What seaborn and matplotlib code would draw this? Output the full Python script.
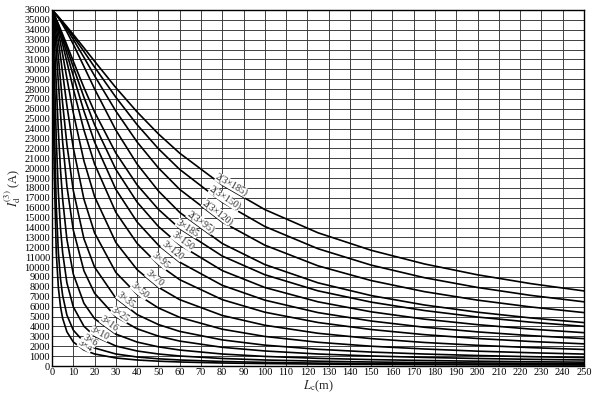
import numpy as np
import pandas as pd
import matplotlib
matplotlib.use("Agg")
import matplotlib.pyplot as plt
import seaborn as sns

# cable length Lc (m)
lengths = [0, 0.5, 1, 2, 3, 4, 5, 7, 10, 15, 20, 30, 40, 50, 60, 80, 100, 125, 150, 175, 200, 225, 250]

# short-circuit current Id(3) (A) read for each cable
i_3x4 = [36000, 28830, 20080, 11500, 7900, 5990, 4820, 3460, 2430, 1620, 1216, 811, 608, 487, 406, 304, 243, 195, 162, 139, 122, 108, 97]
i_3x6 = [36000, 32130, 25470, 16200, 11480, 8820, 7140, 5150, 3630, 2430, 1820, 1215, 912, 730, 608, 456, 365, 292, 243, 209, 182, 162, 146]
i_3x10 = [36000, 34330, 30700, 23000, 17510, 13900, 11450, 8410, 5980, 4020, 3025, 2022, 1518, 1215, 1013, 760, 608, 486, 405, 347, 304, 270, 243]
i_3x16 = [36000, 35190, 33400, 28470, 23690, 19830, 16870, 12810, 9300, 6340, 4790, 3220, 2420, 1940, 1615, 1212, 970, 776, 647, 555, 485, 432, 388]
i_3x25 = [36000, 35530, 34630, 31900, 28650, 25480, 22660, 18190, 13750, 9630, 7360, 4980, 3760, 3020, 2520, 1890, 1520, 1214, 1012, 868, 759, 675, 608]
i_3x35 = [36000, 35650, 35080, 33370, 31190, 28840, 26540, 22420, 17750, 12870, 10000, 6860, 5200, 4190, 3500, 2640, 2110, 1690, 1410, 1210, 1060, 943, 849]
i_3x50 = [36000, 35720, 35320, 34230, 32840, 31270, 29620, 26350, 22060, 16870, 13460, 9460, 7250, 5870, 4920, 3720, 2990, 2400, 2000, 1720, 1500, 1340, 1205]
i_3x70 = [36000, 35750, 35440, 34660, 33720, 32650, 31500, 29100, 25610, 20740, 17140, 12490, 9740, 7960, 6710, 5110, 4120, 3310, 2770, 2380, 2090, 1860, 1670]
i_3x95 = [36000, 35760, 35490, 34880, 34160, 33380, 32540, 30750, 28030, 23860, 20430, 15540, 12400, 10260, 8730, 6710, 5440, 4400, 3690, 3170, 2780, 2480, 2240]
i_3x120 = [36000, 35770, 35520, 34970, 34370, 33710, 33030, 31580, 29350, 25780, 22650, 17860, 14560, 12220, 10500, 8160, 6660, 5400, 4550, 3920, 3450, 3070, 2770]
i_3x150 = [36000, 35770, 35540, 35030, 34490, 33920, 33340, 32120, 30230, 27180, 24400, 19880, 16570, 14110, 12250, 9650, 7940, 6490, 5480, 4740, 4180, 3730, 3370]
i_3x185 = [36000, 35770, 35540, 35060, 34570, 34050, 33530, 32460, 30820, 28160, 25690, 21530, 18310, 15840, 13900, 11120, 9230, 7600, 6460, 5610, 4950, 4430, 4010]
i_2x95 = [36000, 35880, 35760, 35490, 35200, 34880, 34530, 33780, 32540, 30290, 28020, 23850, 20420, 17700, 15530, 12390, 10260, 8410, 7120, 6170, 5440, 4860, 4390]
i_2x120 = [36000, 35890, 35770, 35520, 35250, 34970, 34680, 34050, 33030, 31210, 29350, 25780, 22650, 20030, 17860, 14560, 12220, 10130, 8640, 7520, 6660, 5970, 5400]
i_2x150 = [36000, 35890, 35770, 35540, 35290, 35030, 34760, 34210, 33340, 31800, 30230, 27180, 24400, 21970, 19880, 16570, 14110, 11860, 10200, 8930, 7940, 7140, 6490]
i_2x185 = [36000, 35890, 35770, 35540, 35310, 35060, 34820, 34310, 33530, 32180, 30820, 28150, 25690, 23470, 21520, 18300, 15820, 13470, 11700, 10320, 9220, 8330, 7590]

cable_names = ["3×4", "3×6", "3×10", "3×16", "3×25", "3×35", "3×50", "3×70",
               "3×95", "3×120", "3×150", "3×185",
               "2(3×95)", "2(3×120)", "2(3×150)", "2(3×185)"]
series = [i_3x4, i_3x6, i_3x10, i_3x16, i_3x25, i_3x35, i_3x50, i_3x70,
          i_3x95, i_3x120, i_3x150, i_3x185, i_2x95, i_2x120, i_2x150, i_2x185]
# where each curve label sits along the length axis
label_at = [14.6, 16.9, 21.6, 25.8, 31.0, 33.4, 40.0, 47.0,
            49.8, 55.5, 60.2, 62.5, 68.6, 76.6, 80.1, 83.4]

x_ticks = list(range(0, 251, 10))
y_ticks = list(range(0, 36001, 1000))

df = pd.concat([pd.DataFrame({"L": lengths, "I": s, "cable": n})
                for n, s in zip(cable_names, series)], ignore_index=True)

sns.set_theme(style="white")
plt.rcParams["font.family"] = ["Liberation Serif", "DejaVu Serif"]
plt.rcParams["mathtext.fontset"] = "stix"

fig = plt.figure(figsize=(6.0, 3.98), dpi=100)
ax = fig.add_axes([52 / 600, 1 - 366 / 398, 532 / 600, 356 / 398])

sns.lineplot(data=df, x="L", y="I", hue="cable", units="cable", estimator=None,
             palette=["black"] * len(cable_names), hue_order=cable_names,
             legend=False, lw=1.2, sort=True, ax=ax, zorder=3)

ax.set_xlim(0, 250)
ax.set_ylim(0, 36000)
ax.set_xticks(x_ticks)
ax.set_yticks(y_ticks)
ax.set_xticklabels([str(v) for v in x_ticks], fontsize=7.5)
ax.set_yticklabels([str(v) for v in y_ticks], fontsize=7.5)
ax.tick_params(length=0, pad=1.5, colors="black")
ax.grid(True, color="#404040", lw=0.7)
ax.set_axisbelow(True)
for sp in ax.spines.values():
    sp.set_color("black")
    sp.set_linewidth(1.0)

ax.set_xlabel(r"$L_{\mathrm{c}}$(m)", fontsize=9, labelpad=1)
ax.set_ylabel(r"$I_{\mathrm{d}}^{(3)}$ (A)", fontsize=9, labelpad=1)

# curve labels along the curves
for name, s, lx in zip(cable_names, series, label_at):
    ly = float(np.interp(lx, lengths, s))
    y1 = float(np.interp(lx - 2, lengths, s))
    y2 = float(np.interp(lx + 2, lengths, s))
    p1 = ax.transData.transform((lx - 2, y1))
    p2 = ax.transData.transform((lx + 2, y2))
    ang = np.degrees(np.arctan2(p2[1] - p1[1], p2[0] - p1[0]))
    ax.text(lx, ly, name, rotation=ang, rotation_mode="anchor",
            ha="center", va="bottom", fontsize=7, zorder=4,
            bbox=dict(facecolor="white", edgecolor="none", pad=0.05))

fig.savefig("out.png", dpi=100)
